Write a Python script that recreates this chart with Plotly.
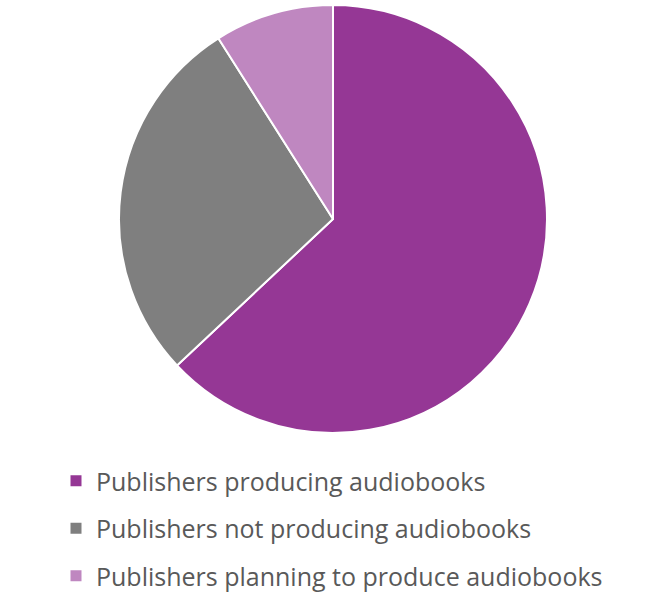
import plotly.graph_objects as go

labels = ["Publishers producing audiobooks",
          "Publishers not producing audiobooks",
          "Publishers planning to produce audiobooks"]
values = [63, 28, 9]
colors = ["#953795", "#7f7f7f", "#bf87c0"]

W, H = 655, 594
cx, cy, r = 333, 219, 214

fig = go.Figure()
fig.add_trace(go.Pie(
    labels=labels, values=values, sort=False, direction="clockwise", rotation=0,
    marker=dict(colors=colors, line=dict(color="white", width=2)),
    textinfo="none", hoverinfo="label+percent", showlegend=False,
    domain=dict(x=[(cx - r) / W, (cx + r) / W], y=[1 - (cy + r) / H, 1 - (cy - r) / H]),
))
for i, (lab, col) in enumerate(zip(labels, colors)):
    fig.add_trace(go.Scatter(
        x=[None], y=[None], mode="markers", name=lab, legendgroup=f"g{i}",
        marker=dict(symbol="square", size=11, color=col),
    ))

fig.update_layout(
    width=W, height=H, margin=dict(l=0, r=0, t=0, b=0, autoexpand=False),
    paper_bgcolor="white", plot_bgcolor="white",
    xaxis=dict(visible=False), yaxis=dict(visible=False),
    legend=dict(x=56 / W, y=1 - 458 / H, xanchor="left", yanchor="top",
                font=dict(family="Open Sans", size=25, color="#595959"),
                tracegroupgap=12, bgcolor="rgba(0,0,0,0)"),
)
fig.write_html("out.html", config={"displayModeBar": False},
               post_script="document.body.style.margin='0';")
